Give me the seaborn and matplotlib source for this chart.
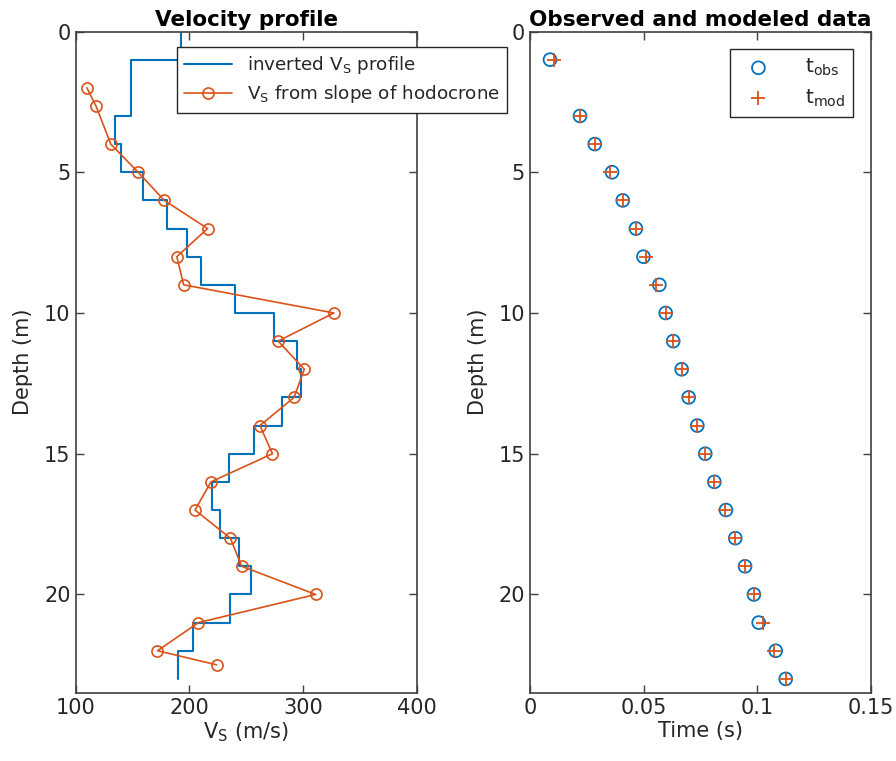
import numpy as np
import pandas as pd
import seaborn as sns
import matplotlib.pyplot as plt

# inverted Vs profile: layer boundaries (m) and layer velocities (m/s)
layer_top = [0, 1, 3, 4, 5, 6, 7, 8, 9, 10, 11, 12, 13, 14, 15, 16, 17, 18, 19, 20, 21, 22]
layer_bot = [1, 3, 4, 5, 6, 7, 8, 9, 10, 11, 12, 13, 14, 15, 16, 17, 18, 19, 20, 21, 22, 23]
layer_vs = [193, 149, 135, 140, 159, 180, 198, 210, 240, 274, 295, 298, 281, 257,
            235, 220, 227, 244, 254, 236, 203, 190]

# Vs from slope of hodocrone
hodo_depth = [2, 2.65, 4, 5, 6, 7, 8, 9, 10, 11, 12, 13, 14, 15, 16, 17, 18, 19,
              20, 21, 22, 22.5]
hodo_vs = [110, 118, 131, 155, 178, 216, 189, 195, 327, 278, 301, 292, 262, 273,
           219, 205, 236, 246, 311, 208, 172, 224]

# observed / modeled travel times
obs_depth = [1, 3, 4, 5, 6, 7, 8, 9, 10, 11, 12, 13, 14, 15, 16, 17, 18, 19, 20, 21, 22, 23]
t_obs = [0.0088, 0.0220, 0.0285, 0.0361, 0.0408, 0.0466, 0.0499, 0.0569, 0.0597,
         0.0630, 0.0667, 0.0698, 0.0736, 0.0771, 0.0811, 0.0862, 0.0903, 0.0946,
         0.0985, 0.1006, 0.1081, 0.1125]
t_mod = [0.0107, 0.0220, 0.0285, 0.0352, 0.0408, 0.0466, 0.0510, 0.0554, 0.0597,
         0.0630, 0.0667, 0.0698, 0.0736, 0.0771, 0.0811, 0.0857, 0.0903, 0.0946,
         0.0985, 0.1023, 0.1074, 0.1125]

BLUE = '#0072BD'
ORANGE = '#D95319'
TXT = '#262626'

sns.set_style("ticks", {
    'xtick.direction': 'in', 'ytick.direction': 'in',
    'xtick.top': True, 'ytick.right': True,
    'axes.edgecolor': '#404040',
})
plt.rcParams['font.family'] = ['DejaVu Sans']
plt.rcParams['mathtext.default'] = 'regular'
plt.rcParams['text.color'] = TXT
plt.rcParams['xtick.color'] = '#404040'
plt.rcParams['ytick.color'] = '#404040'
plt.rcParams['xtick.labelcolor'] = TXT
plt.rcParams['ytick.labelcolor'] = TXT
plt.rcParams['axes.labelcolor'] = TXT

fig = plt.figure(figsize=(8.96, 7.61), dpi=100)
ax1 = fig.add_axes([0.0843, 0.0894, 0.3811, 0.8692])
ax2 = fig.add_axes([0.5915, 0.0894, 0.3806, 0.8692])

# step profile built from the layer arrays
step = pd.DataFrame({
    'vs': np.repeat(layer_vs, 2),
    'depth': np.ravel(np.column_stack([layer_top, layer_bot])),
})
sns.lineplot(data=step, x='vs', y='depth', sort=False, estimator=None, ax=ax1,
             color=BLUE, lw=1.5, label='inverted V$_S$ profile')
hodo = pd.DataFrame({'vs': hodo_vs, 'depth': hodo_depth})
sns.lineplot(data=hodo, x='vs', y='depth', sort=False, estimator=None, ax=ax1,
             color=ORANGE, lw=1.2, marker='o', markersize=8, markerfacecolor='none',
             markeredgecolor=ORANGE, markeredgewidth=1.2,
             label='V$_S$ from slope of hodocrone')

ax1.set_xlim(100, 400)
ax1.set_ylim(23.5, 0)
ax1.set_xticks([100, 200, 300, 400])
ax1.set_yticks([0, 5, 10, 15, 20])
ax1.set_xlabel('V$_S$ (m/s)', fontsize=15, labelpad=2)
ax1.set_ylabel('Depth (m)', fontsize=15, labelpad=8)
ax1.set_title('Velocity profile', fontsize=15.5, fontweight='bold', pad=4, color='black')
leg1 = ax1.legend(loc='upper left', bbox_to_anchor=(0.297, 0.9766), fontsize=13.2,
                  frameon=True, fancybox=False, edgecolor='#262626', framealpha=1,
                  handlelength=2.6, borderpad=0.4, labelspacing=0.38,
                  borderaxespad=0)
leg1.get_frame().set_linewidth(1.0)

obs = pd.DataFrame({'t': t_obs, 'depth': obs_depth})
mod = pd.DataFrame({'t': t_mod, 'depth': obs_depth})
sns.scatterplot(data=obs, x='t', y='depth', ax=ax2, marker='o', s=85,
                facecolors='none', edgecolor=BLUE, linewidth=1.3, label='t$_{obs}$')
sns.scatterplot(data=mod, x='t', y='depth', ax=ax2, marker='+', s=110,
                color=ORANGE, linewidth=1.3, label='t$_{mod}$')

ax2.set_xlim(0, 0.15)
ax2.set_ylim(23.5, 0)
ax2.set_xticks([0, 0.05, 0.1, 0.15])
ax2.set_xticklabels(['0', '0.05', '0.1', '0.15'])
ax2.set_yticks([0, 5, 10, 15, 20])
ax2.set_xlabel('Time (s)', fontsize=15, labelpad=2)
ax2.set_ylabel('Depth (m)', fontsize=15, labelpad=8)
ax2.set_title('Observed and modeled data', fontsize=15.5, fontweight='bold', pad=4,
              color='black')
leg2 = ax2.legend(loc='upper right', bbox_to_anchor=(0.947, 0.9735), fontsize=14.5,
                  frameon=True, fancybox=False, edgecolor='#262626', framealpha=1,
                  handletextpad=1.3, borderpad=0.4, labelspacing=0.45,
                  borderaxespad=0)
leg2.get_frame().set_linewidth(1.0)

for ax in (ax1, ax2):
    ax.tick_params(labelsize=15, length=6, width=1)
    for s in ax.spines.values():
        s.set_linewidth(1.2)
        s.set_visible(True)

fig.savefig('out.png', dpi=100)
